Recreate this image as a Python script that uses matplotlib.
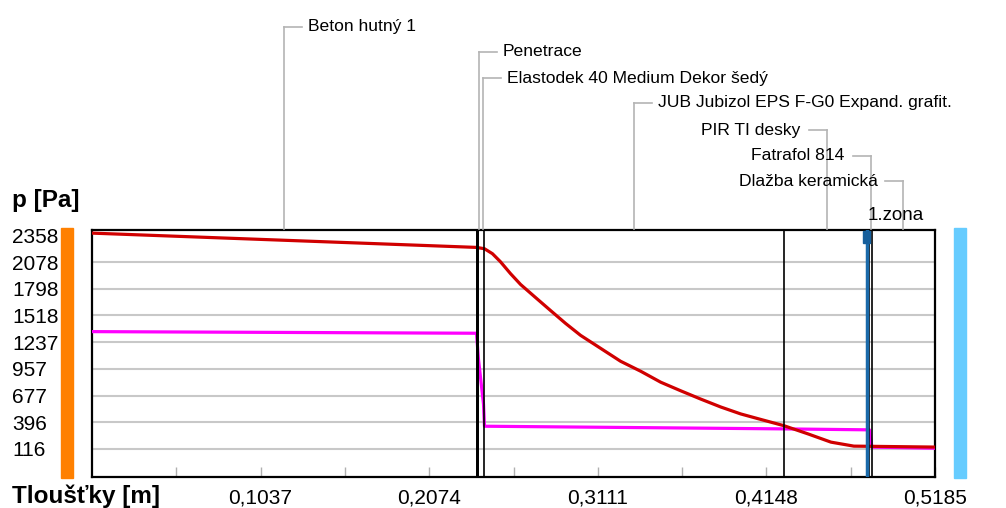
import matplotlib.pyplot as plt
from matplotlib.patches import Rectangle
from matplotlib.lines import Line2D
import matplotlib.transforms as mtransforms

# layers (name, thickness boundaries in m)
layers = ['Beton hutný 1', 'Penetrace', 'Elastodek 40 Medium Dekor šedý',
          'JUB Jubizol EPS F-G0 Expand. grafit.', 'PIR TI desky',
          'Fatrafol 814', 'Dlažba keramická']
edges = [0.0, 0.2365, 0.2368, 0.2414, 0.4255, 0.4782, 0.4797, 0.5185]
zone_x = 0.4766
zone_label = '1.zona'

# red curve - saturated vapour pressure [Pa]
red_x = [0.0, 0.2365, 0.2414, 0.2463, 0.2512, 0.2574, 0.2636, 0.2728, 0.2820,
         0.2913, 0.3005, 0.3128, 0.3251, 0.3375, 0.3498, 0.3621, 0.3744,
         0.3867, 0.3990, 0.4114, 0.4255, 0.4403, 0.4545, 0.4686, 0.4791, 0.5185]
red_p = [2382, 2232, 2218, 2166, 2082, 1957, 1843, 1706, 1570,
         1434, 1309, 1173, 1037, 932, 817, 727, 640,
         557, 484, 426, 361, 275, 188, 146, 144, 136]

# magenta curve - partial vapour pressure [Pa]
mag_x = [0.0, 0.2365, 0.2377, 0.2408, 0.2414, 0.4255, 0.4782, 0.4797, 0.5185]
mag_p = [1348, 1331, 1058, 588, 355, 327, 317, 136, 124]

yticks = [2358, 2078, 1798, 1518, 1237, 957, 677, 396, 116]
xticks = [0.1037, 0.2074, 0.3111, 0.4148, 0.5185]
xminor = [0.05185, 0.15555, 0.25925, 0.36295, 0.46665]
xlabels = ['0,1037', '0,2074', '0,3111', '0,4148', '0,5185']

W, H = 1006, 508
FONT = ['Liberation Sans', 'DejaVu Sans']


def fp(x, y):
    # pixel (from top-left) -> figure fraction
    return x / W, 1 - y / H


fig = plt.figure(figsize=(W / 100, H / 100), dpi=100)
ax = fig.add_axes([92 / W, 1 - 477 / H, (935 - 92) / W, (477 - 229.5) / H])
ax.set_xlim(0, 0.5185)
ax.set_ylim(-178, 2420)

ax.set_yticks(yticks)
ax.set_yticklabels([str(v) for v in yticks], family=FONT, fontsize=15)
ax.tick_params(axis='y', length=0, pad=57.6)
for lab in ax.get_yticklabels():
    lab.set_horizontalalignment('left')
ax.grid(axis='y', color='#c8c8c8', lw=1.5, zorder=0)
ax.yaxis.get_gridlines()[0].set_visible(False)

ax.set_xticks(xticks)
ax.set_xticklabels(xlabels, family=FONT, fontsize=15)
ax.set_xticks(xminor, minor=True)
ax.tick_params(axis='x', which='both', direction='in', length=7, width=1,
               color='#b0b0b0', pad=8)
for s in ax.spines.values():
    s.set_linewidth(1.6)
    s.set_color('black')
ax.set_axisbelow(True)

ax.plot(mag_x, mag_p, color='#ff00ff', lw=2.3, zorder=3)
ax.plot(red_x, red_p, color='#d00000', lw=2.3, zorder=4)

# layer boundaries
for i, e in enumerate(edges[1:-1]):
    ax.axvline(e, color='black', lw=2.0 if i < 2 else 1.2, zorder=5)

# zone marker
ax.axvline(zone_x, color='#1a6aaa', lw=2.5, zorder=6)
bt = mtransforms.blended_transform_factory(ax.transData, ax.transAxes)
ax.add_patch(Rectangle((zone_x - 0.0021, 0.945), 0.0042, 0.05, transform=bt,
                       color='#165f9c', zorder=7, clip_on=False))

fig.canvas.draw()


def xpx(x):
    return ax.transData.transform((x, 0))[0]


gray = '#b4b4b4'
top = 229
# label y positions (pixel rows) and side of the leader
label_rows = [27, 52, 78, 103, 130, 156, 181]
label_side = ['r', 'r', 'r', 'r', 'l', 'l', 'l']
for i, name in enumerate(layers):
    mid = xpx((edges[i] + edges[i + 1]) / 2)
    if i in (1, 2):
        mid += 2
    y = label_rows[i]
    fig.add_artist(Line2D(*zip(fp(mid, y), fp(mid, top)), color=gray, lw=1.2))
    if label_side[i] == 'r':
        fig.add_artist(Line2D(*zip(fp(mid, y), fp(mid + 18, y)), color=gray, lw=1.2))
        fig.text(*fp(mid + 24, y), name, family=FONT, fontsize=12.6,
                 ha='left', va='center')
    else:
        fig.add_artist(Line2D(*zip(fp(mid, y), fp(mid - 18, y)), color=gray, lw=1.2))
        fig.text(*fp(mid - 26, y), name, family=FONT, fontsize=12.6,
                 ha='right', va='center')

fig.text(*fp(xpx(zone_x) + 1, 216), zone_label, family=FONT, fontsize=13.5,
         ha='left', va='center')

# side colour bars
fig.add_artist(Rectangle(fp(61, 478), 12 / W, 250 / H, color='#ff8000'))
fig.add_artist(Rectangle(fp(954, 478), 12 / W, 250 / H, color='#66ccff'))

fig.text(*fp(12, 201), 'p [Pa]', family=FONT, fontsize=17.5, fontweight='bold',
         ha='left', va='center')
fig.text(*fp(12, 496), 'Tloušťky [m]', family=FONT, fontsize=17.5,
         fontweight='bold', ha='left', va='center')

fig.savefig('out.png', dpi=100)
